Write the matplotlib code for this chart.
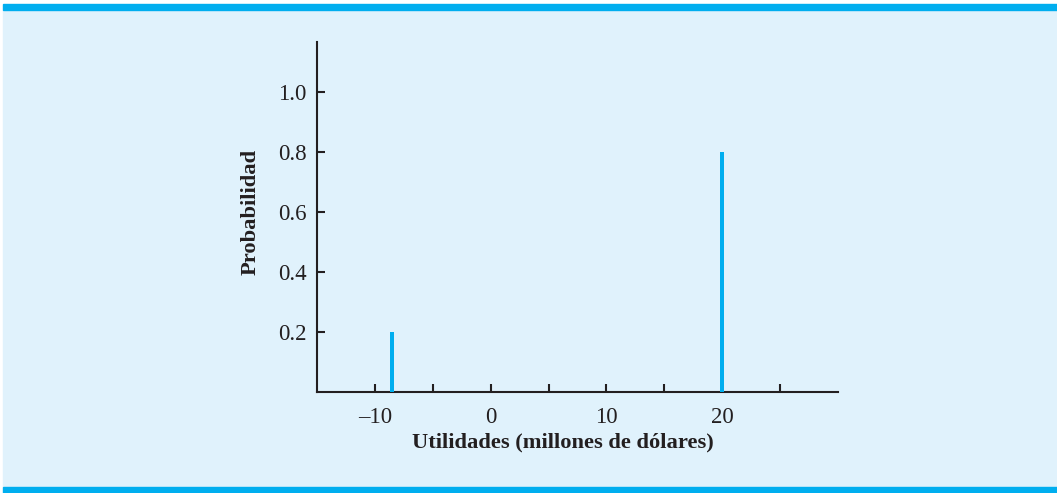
import matplotlib
matplotlib.use("Agg")
import matplotlib.pyplot as plt
from matplotlib.patches import Rectangle

# Datos
utilidades = [-8.5, 20]
probabilidades = [0.2, 0.8]
xticks_pos = [-10, -5, 0, 5, 10, 15, 20, 25]
xticks_lbl = ["\u201310", "", "0", "", "10", "", "20", ""]
yticks_pos = [0.2, 0.4, 0.6, 0.8, 1.0]
yticks_lbl = ["0.2", "0.4", "0.6", "0.8", "1.0"]

plt.rcParams["font.family"] = ["Liberation Serif", "DejaVu Serif"]

W, H = 1057, 493
fig = plt.figure(figsize=(W / 100, H / 100), dpi=100, facecolor="white")

fondo = "#E0F2FC"
azul = "#00AEEF"
oscuro = "#231F20"

# fondo y bandas azules
fig.patches.append(Rectangle((3 / W, 6 / H), 1 - 3 / W, (H - 16) / H,
                             transform=fig.transFigure, color=fondo, zorder=-10))
fig.patches.append(Rectangle((3 / W, (H - 10) / H), 1, 6 / H,
                             transform=fig.transFigure, color=azul, zorder=-10))
fig.patches.append(Rectangle((3 / W, 0), 1, 6 / H,
                             transform=fig.transFigure, color=azul, zorder=-10))

ax = fig.add_axes([317 / W, (H - 392) / H, (838 - 317) / W, (392 - 42) / H])
ax.set_facecolor("none")

ax.bar(utilidades, probabilidades, width=0.36, color=azul, zorder=3)

ax.set_xlim(-15, 30)
ax.set_ylim(0, 1.167)
ax.set_xticks(xticks_pos)
ax.set_xticklabels(xticks_lbl)
ax.set_yticks(yticks_pos)
ax.set_yticklabels(yticks_lbl)

for s in ["top", "right"]:
    ax.spines[s].set_visible(False)
for s in ["left", "bottom"]:
    ax.spines[s].set_linewidth(1.5)
    ax.spines[s].set_color(oscuro)

ax.tick_params(direction="in", length=6, width=1.5, color=oscuro,
               labelsize=16.5, labelcolor=oscuro)
ax.tick_params(axis="x", pad=11)
ax.tick_params(axis="y", pad=7.5)

ax.set_xlabel("Utilidades (millones de dólares)", fontsize=16.2,
              fontweight="bold", color=oscuro)
ax.set_ylabel("Probabilidad", fontsize=16.2, fontweight="bold",
              color=oscuro)
ax.xaxis.set_label_coords(0.471, -0.116)
ax.yaxis.set_label_coords(-0.108, 0.514)

fig.savefig("out.png", dpi=100, facecolor=fig.get_facecolor())
